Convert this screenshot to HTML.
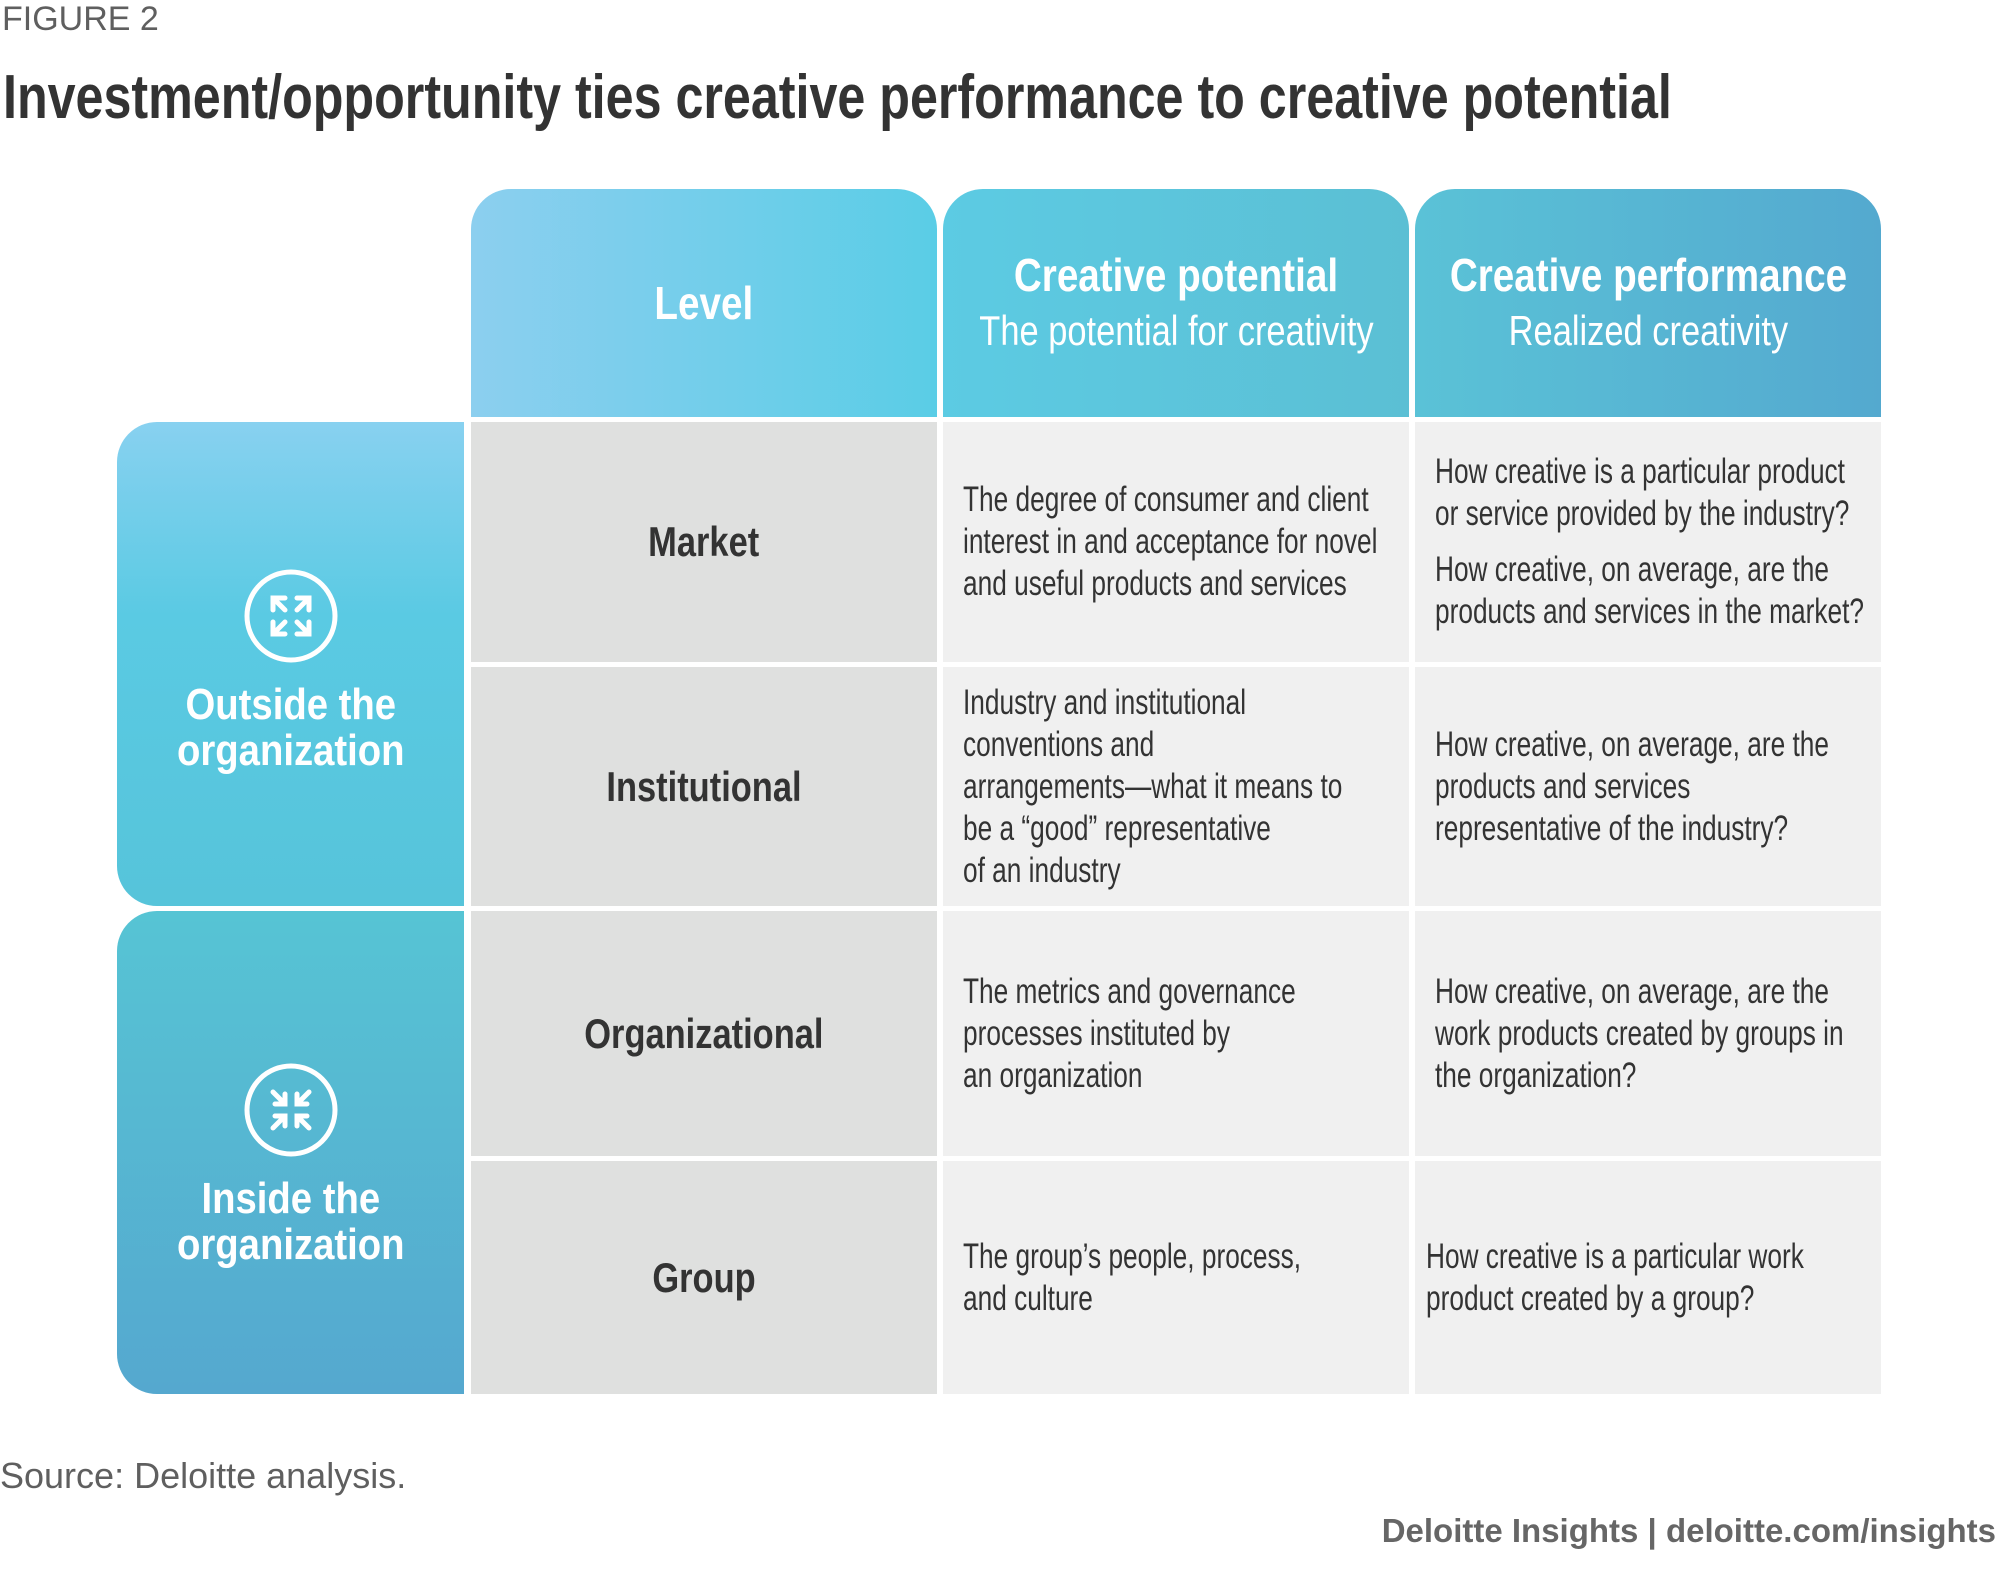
<!DOCTYPE html>
<html><head><meta charset="utf-8"><style>
*{margin:0;padding:0;box-sizing:border-box}
body{width:2000px;height:1574px;background:#fff;position:relative;overflow:hidden;font-family:"Liberation Sans",sans-serif;color:#3b3b3f}
.abs{position:absolute}
.cell{position:absolute;display:flex;flex-direction:column;justify-content:center;white-space:nowrap}
.hd{color:#fff;align-items:center;text-align:center;font-weight:bold;font-size:46px;line-height:56px}
.hd .t{transform:scaleX(0.84)}
.hd .sub{font-weight:normal;font-size:42px;transform:scaleX(0.82)}
.lv{background:#dfe0df;align-items:center;font-weight:bold;font-size:42px;color:#333}
.lv div{transform:scaleX(0.82)}
.tx{background:#f0f0f0;font-size:35px;line-height:42px;padding-left:20px;color:#333}
.tx>div{transform:scaleX(0.75);transform-origin:left center}
.tx p+p{margin-top:14px}
.band{color:#fff;align-items:center;text-align:center;font-weight:bold;font-size:44px;line-height:46px;border-radius:40px 0 0 40px}
.band .t{transform:scaleX(0.87)}
</style></head><body>
<div class="abs" style="left:2px;top:0px;font-size:34px;color:#5f5f5f">FIGURE 2</div>
<div class="abs" style="left:3px;top:62px;font-size:62px;font-weight:bold;color:#333;white-space:nowrap;transform:scaleX(0.81);transform-origin:left top">Investment/opportunity ties creative performance to creative potential</div>

<div class="cell hd" style="left:471px;top:189px;width:466px;height:228px;border-radius:40px 40px 0 0;background:linear-gradient(90deg,#8ccfef,#5acde6)"><div class="t">Level</div></div>
<div class="cell hd" style="left:943px;top:189px;width:466px;height:228px;border-radius:40px 40px 0 0;background:linear-gradient(90deg,#5ccbe3,#5bbfd4)"><div class="t">Creative potential</div><div class="sub">The potential for creativity</div></div>
<div class="cell hd" style="left:1415px;top:189px;width:466px;height:228px;border-radius:40px 40px 0 0;background:linear-gradient(90deg,#5ac2d7,#54a9cf)"><div class="t">Creative performance</div><div class="sub">Realized creativity</div></div>

<div class="cell band" style="left:117px;top:422px;width:347px;height:484px;background:linear-gradient(180deg,#88d1f0,#5acae3 40%,#56c4da)">
<svg width="96" height="96" viewBox="0 0 96 96" style="margin-top:14px"><circle cx="48" cy="48" r="44" fill="none" stroke="#fff" stroke-width="5"/><g stroke="#fff" stroke-width="5" fill="none" stroke-linecap="round"><path d="M32 32L42 42M30 42V30H42"/><path d="M64 32L54 42M66 42V30H54"/><path d="M32 64L42 54M30 54V66H42"/><path d="M64 64L54 54M66 54V66H54"/></g></svg>
<div class="t" style="margin-top:18px">Outside the<br>organization</div></div>
<div class="cell band" style="left:117px;top:911px;width:347px;height:483px;background:linear-gradient(180deg,#56c4d4,#55a8cf)">
<svg width="96" height="96" viewBox="0 0 96 96" style="margin-top:24px"><circle cx="48" cy="48" r="44" fill="none" stroke="#fff" stroke-width="5"/><g stroke="#fff" stroke-width="5" fill="none" stroke-linecap="round"><path d="M30 30L42 42M32 42H42V32"/><path d="M66 30L54 42M64 42H54V32"/><path d="M30 66L42 54M32 54H42V64"/><path d="M66 66L54 54M64 54H54V64"/></g></svg>
<div class="t" style="margin-top:18px">Inside the<br>organization</div></div>

<div class="cell lv" style="left:471px;top:422px;width:466px;height:240px"><div>Market</div></div>
<div class="cell lv" style="left:471px;top:667px;width:466px;height:239px"><div>Institutional</div></div>
<div class="cell lv" style="left:471px;top:911px;width:466px;height:245px"><div>Organizational</div></div>
<div class="cell lv" style="left:471px;top:1161px;width:466px;height:233px"><div>Group</div></div>

<div class="cell tx" style="left:943px;top:422px;width:466px;height:240px"><div>The degree of consumer and client<br>interest in and acceptance for novel<br>and useful products and services</div></div>
<div class="cell tx" style="left:943px;top:667px;width:466px;height:239px"><div>Industry and institutional<br>conventions and<br>arrangements—what it means to<br>be a “good” representative<br>of an industry</div></div>
<div class="cell tx" style="left:943px;top:911px;width:466px;height:245px"><div>The metrics and governance<br>processes instituted by<br>an organization</div></div>
<div class="cell tx" style="left:943px;top:1161px;width:466px;height:233px"><div>The group’s people, process,<br>and culture</div></div>

<div class="cell tx" style="left:1415px;top:422px;width:466px;height:240px"><div><p>How creative is a particular product<br>or service provided by the industry?</p><p>How creative, on average, are the<br>products and services in the market?</p></div></div>
<div class="cell tx" style="left:1415px;top:667px;width:466px;height:239px"><div>How creative, on average, are the<br>products and services<br>representative of the industry?</div></div>
<div class="cell tx" style="left:1415px;top:911px;width:466px;height:245px"><div>How creative, on average, are the<br>work products created by groups in<br>the organization?</div></div>
<div class="cell tx" style="left:1415px;top:1161px;width:466px;height:233px;padding-left:11px"><div>How creative is a particular work<br>product created by a group?</div></div>

<div class="abs" style="left:0;top:1455px;font-size:36px;color:#5f5f5f">Source: Deloitte analysis.</div>
<div class="abs" style="right:4px;top:1512px;font-size:33px;font-weight:bold;color:#666">Deloitte Insights | deloitte.com/insights</div>
</body></html>
